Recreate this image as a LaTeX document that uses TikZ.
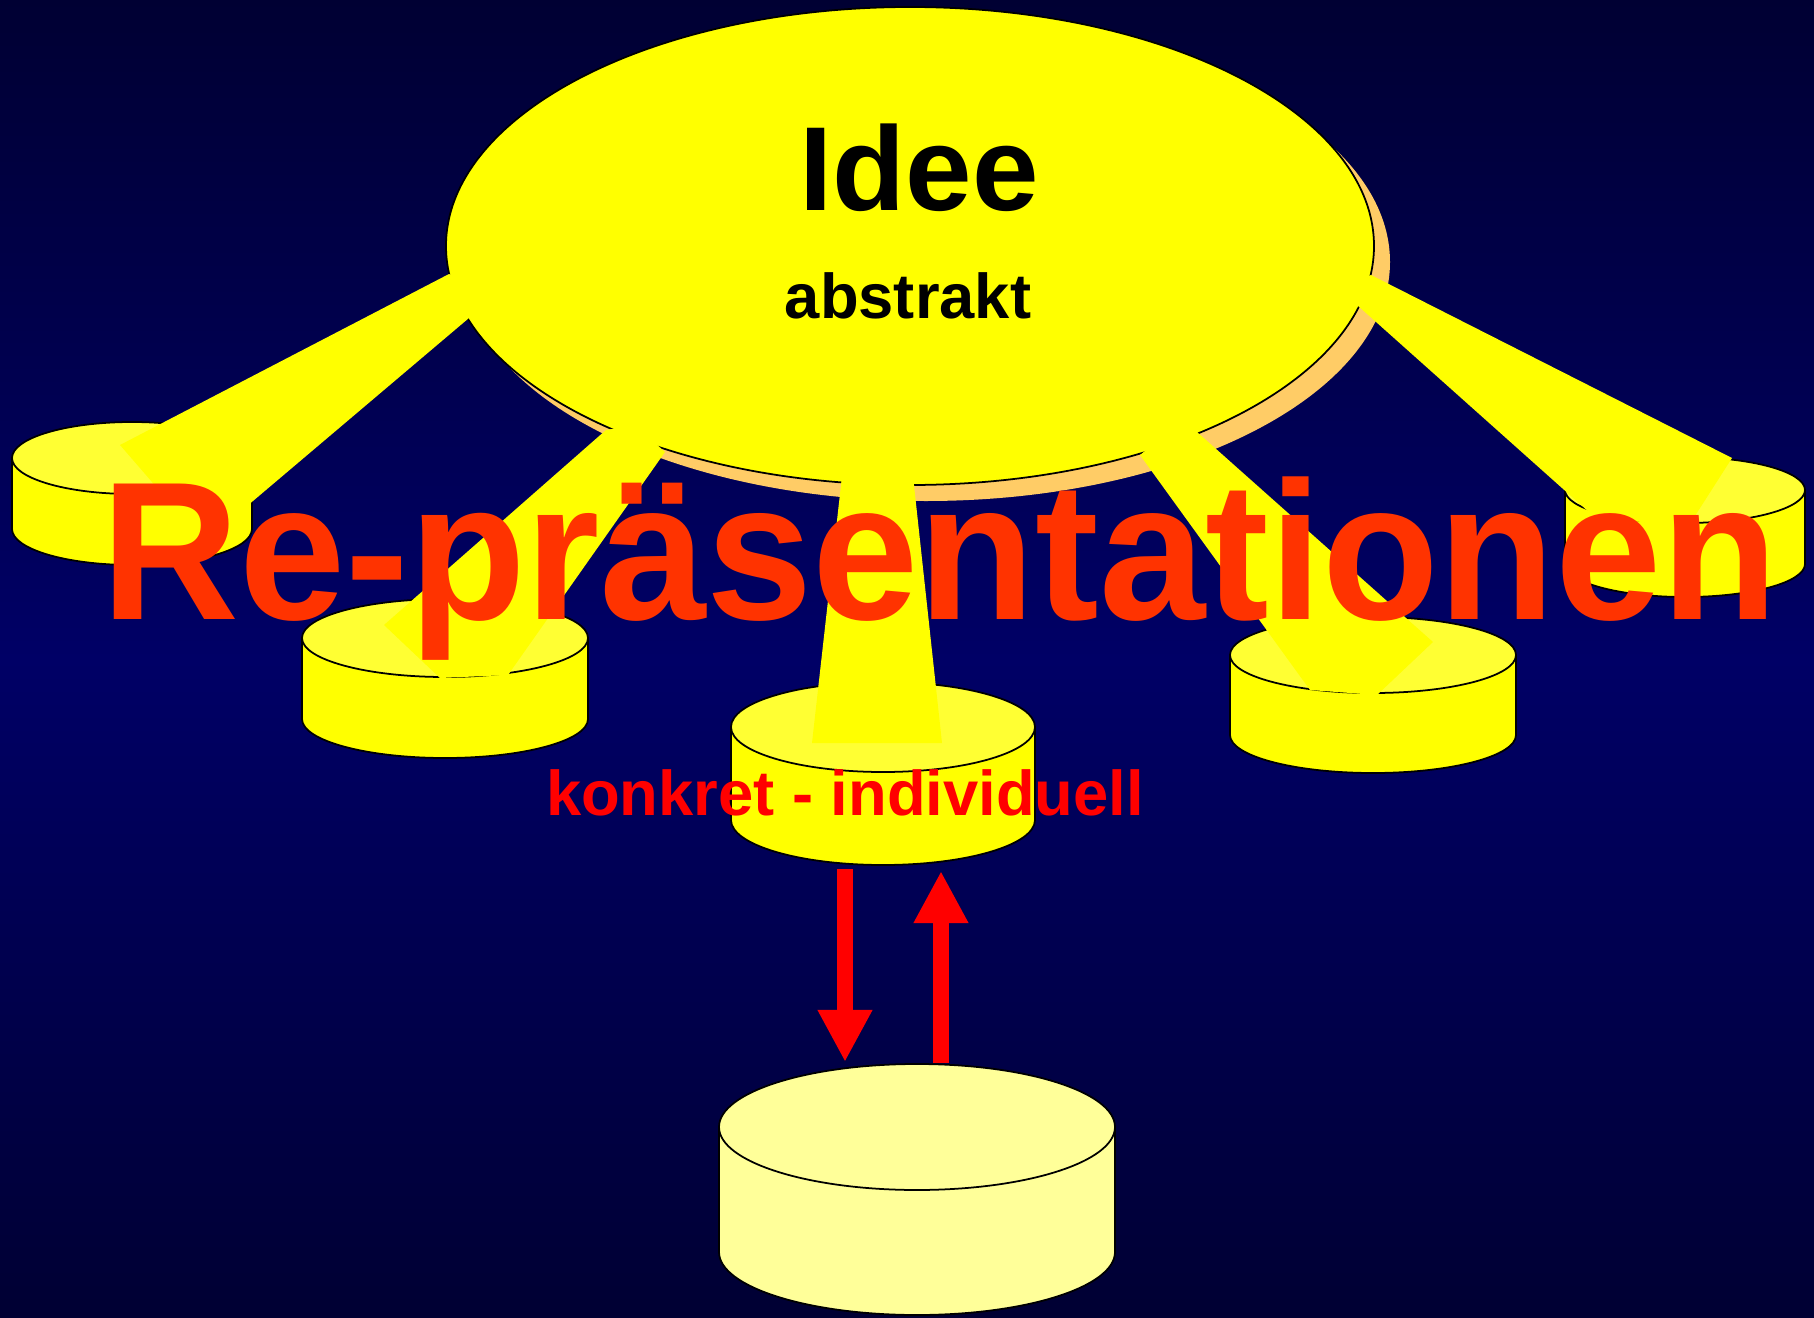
\documentclass[tikz,border=0pt]{standalone}
\usepackage{fontspec}
\setmainfont{Liberation Sans}
\usetikzlibrary{arrows.meta}
\definecolor{navydark}{RGB}{0,0,51}
\definecolor{navymid}{RGB}{0,0,102}
\definecolor{beamyellow}{RGB}{255,255,0}
\definecolor{diskyellow}{RGB}{255,255,51}
\definecolor{paleyellow}{RGB}{255,255,153}
\definecolor{shadoworange}{RGB}{255,204,102}
\definecolor{titlered}{RGB}{255,51,0}
\begin{document}
\begin{tikzpicture}[x=0.01cm, y=-0.01cm,
        outline/.style={draw=black, line width=0.5pt},
        beam/.style={fill=beamyellow},
        blockarrow/.style={draw=red, line width=0.16cm, -{Triangle[width=0.51cm, length=0.52cm]}}]
        \useasboundingbox (0,0) rectangle (1814,1318);
        \shade[top color=navydark, bottom color=navymid] (0,0) rectangle (1814,660);
        \shade[top color=navymid, bottom color=navydark] (0,659) rectangle (1814,1318);
        % idea
        \fill[shadoworange] (926,262) ellipse [x radius=464, y radius=239];
        \draw[outline, fill=beamyellow] (910,246) ellipse [x radius=464, y radius=239];
        % disks
        \draw[outline, fill=beamyellow] (12,458) -- (12,529) arc [start angle=180, end angle=0, x radius=120, y radius=36] -- (252,458) -- cycle;
        \draw[outline, fill=diskyellow] (132,458) ellipse [x radius=120, y radius=36];
        \draw[outline, fill=beamyellow] (302,638) -- (302,719) arc [start angle=180, end angle=0, x radius=143, y radius=39] -- (588,638) -- cycle;
        \draw[outline, fill=diskyellow] (445,638) ellipse [x radius=143, y radius=39];
        \draw[outline, fill=beamyellow] (731,727) -- (731,820) arc [start angle=180, end angle=0, x radius=152, y radius=45] -- (1035,727) -- cycle;
        \draw[outline, fill=diskyellow] (883,727) ellipse [x radius=152, y radius=45];
        \draw[outline, fill=beamyellow] (1230,655) -- (1230,735) arc [start angle=180, end angle=0, x radius=143, y radius=38] -- (1516,655) -- cycle;
        \draw[outline, fill=diskyellow] (1373,655) ellipse [x radius=143, y radius=38];
        \draw[outline, fill=beamyellow] (1565,490) -- (1565,564) arc [start angle=180, end angle=0, x radius=120, y radius=33] -- (1805,490) -- cycle;
        \draw[outline, fill=diskyellow] (1685,490) ellipse [x radius=120, y radius=33];
        % beams
        \fill[beam] (449,274) -- (120,445) -- (165,497) -- (240,512) -- (469,318) -- (490,290) -- cycle;
        \fill[beam] (606,430) -- (384,625) -- (440,678) -- (508,675) -- (665,452) -- (635,425) -- cycle;
        \fill[beam] (842,476) -- (812,743) -- (942,743) -- (913,476) -- cycle;
        \fill[beam] (1140,455) -- (1310,690) -- (1377,695) -- (1433,642) -- (1197,432) -- (1165,435) -- cycle;
        \fill[beam] (1371,275) -- (1732,458) -- (1686,530) -- (1590,513) -- (1357,305) -- (1340,290) -- cycle;
        \node[font=\bfseries\fontsize{34}{40}\selectfont, anchor=base] (idee) at (919,210) {Idee};
        \node[font=\bfseries\fontsize{18}{22}\selectfont, anchor=base] (abstrakt) at (908,318) {abstrakt};
        % base disk
        \draw[outline, fill=paleyellow] (719,1127) -- (719,1252) arc [start angle=180, end angle=0, x radius=198, y radius=63] -- (1115,1127) -- cycle;
        \draw[outline, fill=paleyellow] (917,1127) ellipse [x radius=198, y radius=63];
        \coordinate (konkret-out) at (845,869);
        \coordinate (basis-in) at (845,1062);
        \coordinate (basis-out) at (941,1063);
        \coordinate (konkret-in) at (941,871);
        \draw[blockarrow] (konkret-out) -- (basis-in);
        \draw[blockarrow] (basis-out) -- (konkret-in);
        \node[font=\bfseries\fontsize{56}{60}\selectfont, text=titlered, anchor=base, xscale=0.97] (repr) at (940,619) {Re-präsentationen};
        \node[font=\bfseries\fontsize{18}{22}\selectfont, text=red, anchor=base] (konkret) at (845,815) {konkret - individuell};
\end{tikzpicture}
\end{document}
